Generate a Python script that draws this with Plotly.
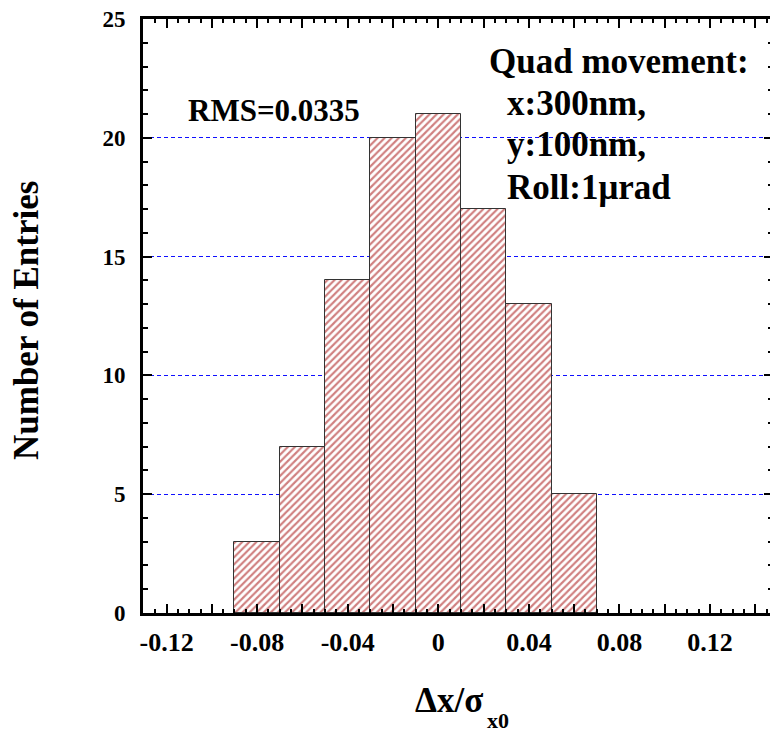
import plotly.graph_objects as go

# ---- data ----
bin_centers = [-0.08, -0.06, -0.04, -0.02, 0.0, 0.02, 0.04, 0.06]
counts = [3, 7, 14, 20, 21, 17, 13, 5]
bin_width = 0.02

x_major_vals = [-0.12, -0.10, -0.08, -0.06, -0.04, -0.02, 0.0, 0.02, 0.04, 0.06, 0.08, 0.10, 0.12, 0.14]
x_major_text = ["-0.12", "", "-0.08", "", "-0.04", "", "0", "", "0.04", "", "0.08", "", "0.12", ""]
y_tick_vals = [0, 5, 10, 15, 20, 25]
y_tick_text = ["0", "5", "10", "15", "20", "25"]

rms_text = "RMS=0.0335"
info_lines = ["Quad movement:", "x:300nm,", "y:100nm,", "Roll:1μrad"]

FONT = "Liberation Serif, Times New Roman, serif"

fig = go.Figure()
fig.add_trace(go.Bar(
    x=bin_centers,
    y=counts,
    width=[bin_width] * len(counts),
    marker=dict(
        color="white",
        line=dict(color="#333333", width=1),
        pattern=dict(shape="/", fgcolor="#a00000", bgcolor="white", size=5, solidity=0.42),
    ),
    showlegend=False,
))

# page offset of the figure div (body margin)
OFF = 8
W, H = 778 - OFF, 734 - OFF
# plot area in page pixels
PL, PR, PT, PB = 143, 773, 19, 613
L, T = PL - OFF, PT - OFF
R = W - (PR - OFF)
B = H - (PB - OFF)

def px(xp):
    return (xp - PL) / (PR - PL)

def py(yp):
    return (PB - yp) / (PB - PT)

font_b = lambda s: dict(family=FONT, size=s, color="black", weight="bold")

annotations = [
    dict(text=rms_text, x=px(186), y=py(110), xref="paper", yref="paper",
         xanchor="left", yanchor="middle", showarrow=False, font=font_b(31)),
    dict(text=info_lines[0], x=px(487), y=py(62), xref="paper", yref="paper",
         xanchor="left", yanchor="middle", showarrow=False, font=font_b(35)),
    dict(text=info_lines[1], x=px(505), y=py(103), xref="paper", yref="paper",
         xanchor="left", yanchor="middle", showarrow=False, font=font_b(35)),
    dict(text=info_lines[2], x=px(505), y=py(144), xref="paper", yref="paper",
         xanchor="left", yanchor="middle", showarrow=False, font=font_b(35)),
    dict(text=info_lines[3], x=px(505), y=py(187), xref="paper", yref="paper",
         xanchor="left", yanchor="middle", showarrow=False, font=font_b(35)),
    # axis titles
    dict(text="Number of Entries", x=px(26), y=py(321), xref="paper", yref="paper",
         xanchor="center", yanchor="middle", textangle=-90, showarrow=False, font=font_b(35)),
    dict(text="Δx/σ", x=px(449), y=py(700), xref="paper", yref="paper",
         xanchor="center", yanchor="middle", showarrow=False, font=font_b(35)),
    dict(text="x0", x=px(485), y=py(720), xref="paper", yref="paper",
         xanchor="left", yanchor="middle", showarrow=False, font=font_b(22)),
]

fig.update_layout(
    width=W, height=H,
    margin=dict(l=L, r=R, t=T, b=B, autoexpand=False),
    paper_bgcolor="white", plot_bgcolor="white",
    bargap=0,
    annotations=annotations,
    xaxis=dict(
        range=[-0.1304, 0.1478],
        tickmode="array", tickvals=x_major_vals, ticktext=x_major_text,
        ticks="inside", ticklen=9, tickwidth=2, tickcolor="black",
        showline=True, linewidth=3, linecolor="black", mirror="allticks",
        showgrid=False, zeroline=False,
        tickfont=font_b(26),
        ticklabelstandoff=4,
        ticklabeloverflow="allow",
        minor=dict(ticks="inside", dtick=0.005, tick0=0, ticklen=4, tickwidth=2, tickcolor="black", showgrid=False),
    ),
    yaxis=dict(
        range=[0, 25],
        tickmode="array", tickvals=y_tick_vals, ticktext=y_tick_text,
        ticks="inside", ticklen=9, tickwidth=2, tickcolor="black",
        showline=True, linewidth=3, linecolor="black", mirror="allticks",
        showgrid=True, gridcolor="#1010ff", gridwidth=1, griddash="4px,3px",
        zeroline=False,
        tickfont=font_b(23),
        ticklabelstandoff=10,
        ticklabeloverflow="allow",
        minor=dict(ticks="inside", dtick=1, tick0=0, ticklen=5, tickwidth=2, tickcolor="black", showgrid=False),
    ),
)

fig.write_html("out.html")
